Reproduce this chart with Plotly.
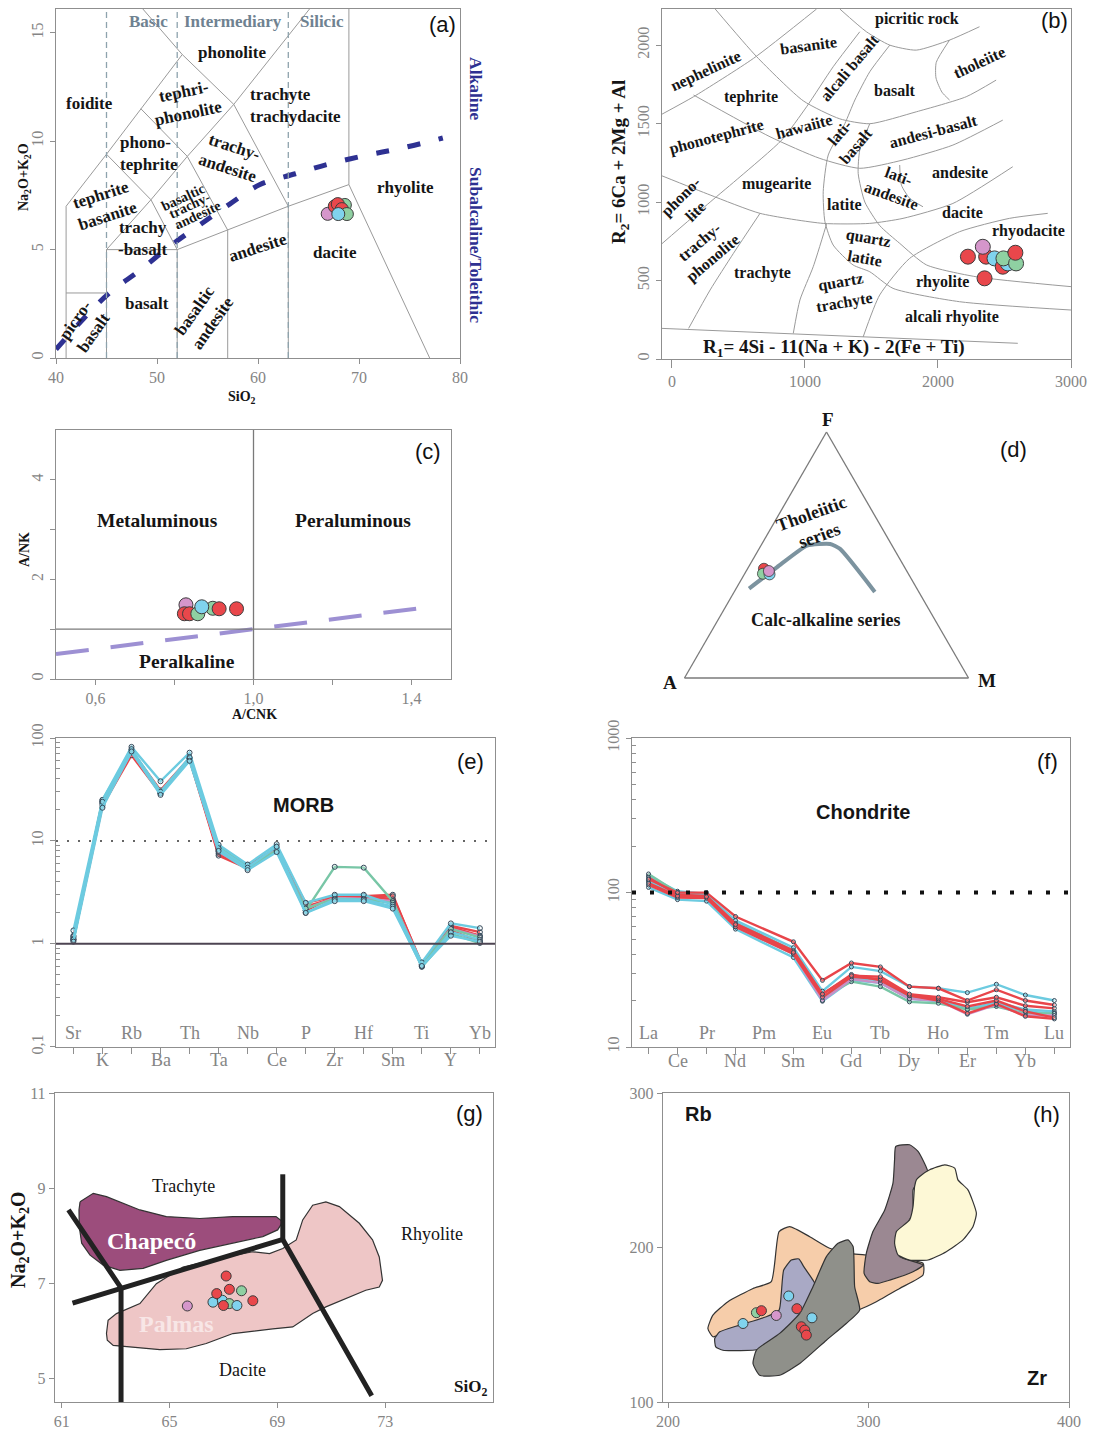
import plotly.graph_objects as go

W, H = 1096, 1432


def PX(x):
    return x / W


def PY(y):
    return 1 - y / H


SERIF = "Liberation Serif"
SANS = "Liberation Sans"
TICK = "#858585"
FRAME = "#8f8f8f"
RED, PINK, GREEN, CYAN = "#e9474b", "#d596cb", "#8fd0a2", "#80d3ee"
LRED, LPINK, LGREEN, LCYAN = "#e8454a", "#c98fc6", "#78c6a6", "#6ccbe0"
EDGE = "#3d3d3d"
NAVY = "#2e3192"

# ---------------- (a) TAS diagram ----------------
TAS_SIO2 = [66.9, 68.6, 67.6, 67.9, 68.3, 68.8, 67.95]
TAS_ALK = [6.65, 7.06, 7.0, 7.1, 6.87, 6.64, 6.64]
TAS_COL = [PINK, GREEN, RED, RED, RED, GREEN, CYAN]
TAS_DIVIDERS = [45, 52, 63]
TAS_LINES = [
    [(41, 0), (41, 7), (45, 9.4), (48.4, 11.5), (52.5, 14), (48.6, 16.1)],
    [(41, 3), (45, 3)],
    [(45, 0), (45, 5), (52, 5), (57, 5.9), (63, 7), (69, 8), (77, 0)],
    [(52, 0), (52, 5)],
    [(57, 0), (57, 5.9)],
    [(63, 0), (63, 7)],
    [(69, 8), (69, 16.1)],
    [(45, 5), (49.4, 7.3), (53, 9.3), (57.6, 11.7), (65.1, 16.1)],
    [(45, 9.4), (49.4, 7.3), (52, 5)],
    [(48.4, 11.5), (53, 9.3), (57, 5.9)],
    [(52.5, 14), (57.6, 11.7), (63, 7)],
]
IRV_SIO2 = [40, 42.7, 45.3, 48.3, 51.1, 54.1, 57.2, 60.2, 63.7, 67.1, 70.8, 74.4, 78.3]
IRV_ALK = [0.4, 1.8, 3.0, 4.04, 5.1, 6.1, 7.1, 8.0, 8.5, 8.96, 9.36, 9.7, 10.15]

# ---------------- (b) R1-R2 diagram ----------------
B_R1 = [2225, 2362, 2350, 2337, 2425, 2487, 2525, 2562, 2492, 2587, 2582]
B_R2 = [652, 652, 514, 715, 641, 588, 609, 652, 641, 609, 677]
B_COL = [RED, RED, RED, PINK, CYAN, RED, CYAN, CYAN, GREEN, GREEN, RED]
B_LINES = [
    [(-75, 195), (2600, 100)],
    [(-75, 1560), (162, 1671), (612, 1915), (1087, 2230)],
    [(325, 2230), (637, 1926), (987, 1645), (1262, 1530), (1487, 1499), (1837, 1575), (2212, 1671), (2437, 1777)],
    [(162, 1682), (737, 1416), (1112, 1278), (1412, 1215), (1737, 1268), (2112, 1363), (2487, 1522)],
    [(-75, 1167), (287, 1045), (662, 928), (1137, 864), (1487, 864), (1737, 896), (2112, 991), (2562, 1225)],
    [(1437, 140), (1562, 408), (1787, 641), (2162, 811), (2537, 896), (2825, 928)],
    [(1487, 1499), (1412, 1331), (1400, 1182), (1450, 1000), (1562, 850), (1712, 737), (1912, 600), (2287, 524), (3000, 461)],
    [(1638, 2000), (1487, 1830), (1375, 1650), (1300, 1500), (1175, 1300), (1137, 1066), (1150, 875), (1212, 726),
     (1362, 599), (1487, 556), (1662, 450), (2162, 365), (3000, 312)],
    [(1412, 2085), (1212, 1862), (1012, 1607), (825, 1395), (512, 1161), (287, 1000), (-75, 735)],
    [(662, 928), (462, 673), (287, 440), (125, 195)],
    [(1162, 859), (1062, 588), (962, 376), (912, 163)],
    [(2087, 2032), (1987, 1890), (1985, 1790), (2030, 1700), (2087, 1650)],
    [(1712, 1236), (1725, 1108), (1787, 1024), (1887, 970)],
    [(1262, 2230), (1462, 2085), (1637, 2000), (1837, 1968), (2087, 2032), (2312, 2117)],
]

# ---------------- (c) Shand diagram ----------------
C_ACNK = [0.829, 0.825, 0.838, 0.859, 0.897, 0.913, 0.957, 0.869]
C_ANK = [1.49, 1.31, 1.31, 1.31, 1.42, 1.41, 1.41, 1.45]
C_COL = [PINK, RED, RED, GREEN, GREEN, RED, RED, CYAN]
C_REF = [0.5, 1.46]

# ---------------- (d) AFM ----------------
D_CURVE_F = [0.3634, 0.4508, 0.5383, 0.5450, 0.5248, 0.3499]
D_CURVE_A = [0.5910, 0.4483, 0.2996, 0.2147, 0.1898, 0.1549]
D_CURVE_M = [0.0456, 0.1009, 0.1621, 0.2403, 0.2854, 0.4952]
D_F = [0.4441, 0.4239, 0.4212, 0.4347]
D_A = [0.4982, 0.5118, 0.4899, 0.4855]
D_M = [0.0577, 0.0643, 0.0889, 0.0798]
D_COL = [RED, GREEN, CYAN, PINK]

# ---------------- (e) MORB-normalised spider ----------------
ELEMENTS_E = ["Sr", "K", "Rb", "Ba", "Th", "Ta", "Nb", "Ce", "P", "Zr", "Hf", "Sm", "Ti", "Y", "Yb"]
E_SAMPLES = [
    (LRED, [1.10, 22, 68, 29, 62, 7.2, 5.4, 8.0, 2.5, 2.9, 2.9, 3.0, 0.62, 1.50, 1.30]),
    (LRED, [1.15, 23, 72, 30, 63, 7.5, 5.6, 8.3, 2.3, 2.8, 2.8, 2.9, 0.64, 1.45, 1.20]),
    (LRED, [1.20, 24, 75, 31, 64, 8.0, 5.8, 8.5, 2.1, 2.9, 2.9, 2.7, 0.63, 1.35, 1.05]),
    (LPINK, [1.18, 23, 73, 29, 62, 7.8, 5.5, 8.2, 2.2, 2.8, 2.75, 2.6, 0.63, 1.40, 1.18]),
    (LGREEN, [1.08, 25, 76, 30, 62, 8.8, 5.6, 8.0, 2.1, 5.6, 5.5, 2.6, 0.60, 1.25, 1.02]),
    (LGREEN, [1.12, 24, 74, 29, 61, 8.3, 5.4, 8.1, 2.2, 2.75, 2.7, 2.5, 0.62, 1.40, 1.15]),
    (LCYAN, [1.35, 25, 82, 38, 72, 9.2, 5.9, 9.3, 2.5, 3.0, 3.0, 2.4, 0.66, 1.58, 1.42]),
    (LCYAN, [1.10, 24, 78, 30, 65, 8.5, 5.5, 8.8, 2.0, 2.7, 2.7, 2.3, 0.60, 1.30, 1.10]),
    (LCYAN, [1.05, 21, 74, 28, 60, 8.0, 5.2, 7.8, 2.0, 2.6, 2.6, 2.2, 0.61, 1.20, 1.05]),
]
E_TICKS = [0.1, 1, 10, 100]
E_TICKTEXT = ["0,1", "1", "10", "100"]

# ---------------- (f) Chondrite-normalised REE ----------------
ELEMENTS_F = ["La", "Ce", "Pr", "Nd", "Pm", "Sm", "Eu", "Gd", "Tb", "Dy", "Ho", "Er", "Tm", "Yb", "Lu"]
F_SAMPLES = [
    (LCYAN, [128, 102, 98, 64, None, 42, 20.5, 28, 27, 21, 20, 17.5, 19.5, 17.5, 17]),
    (LCYAN, [108, 90, 88, 58, None, 38, 19.8, 27, 26, 20.5, 19.8, 17.8, 19, 17, 16.5]),
    (LGREEN, [132, 100, 97, 63, None, 42, 21, 26.5, 24.6, 19.6, 19.2, 17.5, 18.3, 16.5, 16.5]),
    (LPINK, [120, 96, 93, 60, None, 40, 20, 27.5, 26, 20.5, 20, 16.3, 18.8, 16, 16]),
    (LCYAN, [118, 98, 97, 66, None, 44, 23, 33, 31, 24.6, 24, 22.5, 25.5, 21.7, 20]),
    (LRED, [125, 97, 95, 63, None, 42, 22, 29.5, 27, 21.5, 20, 16.5, 19, 15.8, 15.2]),
    (LRED, [112, 93, 92, 60, None, 40, 21, 28.5, 27.5, 21.5, 20.5, 18.3, 20, 17, 15.5]),
    (LRED, [115, 95, 94, 62, None, 41, 22, 29, 28.5, 22, 21, 19.5, 21, 18.5, 17.8]),
    (LRED, [122, 100, 100, 70, None, 48, 27, 35, 33, 24.6, 24, 20, 23.5, 20, 18.7]),
]
F_TICKS = [10, 100, 1000]

# ---------------- (g) TAS zoom with Chapecó / Palmas fields ----------------
G_SIO2 = [65.66, 66.61, 66.96, 67.22, 67.50, 67.67, 66.75, 67.10, 67.22, 68.09, 67.00]
G_ALK = [6.52, 6.60, 6.64, 6.57, 6.53, 6.84, 6.78, 7.15, 6.87, 6.63, 6.53]
G_COL = [PINK, CYAN, CYAN, GREEN, CYAN, GREEN, RED, RED, RED, RED, RED]
CHAPECO = [(61.68, 8.71), (62.17, 8.89), (62.66, 8.82), (63.90, 8.54), (64.88, 8.40), (66.12, 8.36), (67.35, 8.40),
           (68.95, 8.40), (69.20, 8.29), (69.01, 8.12), (68.46, 7.98), (67.35, 7.84), (66.12, 7.69), (64.88, 7.48),
           (64.02, 7.31), (63.16, 7.27), (62.54, 7.38), (62.05, 7.59), (61.74, 7.84), (61.65, 8.19), (61.64, 8.54)]
PALMAS = [(62.66, 5.94), (62.72, 6.22), (63.03, 6.36), (63.90, 6.57), (64.51, 6.99), (65.50, 7.34), (67.10, 7.55),
          (68.09, 7.66), (68.71, 7.62), (69.20, 7.73), (69.70, 7.91), (69.94, 8.33), (70.31, 8.64), (70.80, 8.71),
          (71.30, 8.61), (72.04, 8.26), (72.53, 7.91), (72.78, 7.55), (72.90, 7.06), (72.78, 6.92), (72.28, 6.85),
          (71.42, 6.64), (70.80, 6.50), (70.31, 6.36), (69.57, 6.08), (68.83, 6.04), (67.35, 5.94), (66.36, 5.73),
          (65.62, 5.62), (64.64, 5.60), (63.65, 5.65), (62.91, 5.69), (62.69, 5.80)]
G_LINES = [
    [(61.25, 8.54), (63.2, 6.9), (63.2, 4.5)],
    [(61.4, 6.58), (69.2, 7.92), (72.5, 4.63)],
    [(69.2, 9.29), (69.2, 7.92)],
]

# ---------------- (h) Zr vs Rb ----------------
H_ZR = [237.4, 244.1, 246.6, 254.0, 260.2, 264.3, 271.8, 266.5, 268.2, 269.0]
H_RB = [150.8, 157.8, 159.1, 156.0, 168.6, 160.4, 154.5, 148.7, 146.5, 143.3]
H_COL = [CYAN, GREEN, RED, PINK, CYAN, RED, CYAN, RED, RED, RED]
H_FIELDS = [
    ("#f6cdaa", [(219.9, 147.6), (222.4, 156.2), (229.9, 164.9), (242.4, 173.5), (251.5, 177.9), (255.4, 210.3),
                 (260.7, 213.5), (270.7, 207.0), (280.6, 199.5), (290.6, 196.2), (298.1, 195.2), (327.2, 189.8),
                 (327.2, 182.2), (315.5, 173.5), (303.9, 164.9), (295.6, 159.9), (288.9, 157.3), (255.7, 144.4),
                 (230.8, 146.5), (222.4, 142.2)]),
    ("#9b8892", [(313.6, 265.4), (320.5, 266.5), (324.7, 262.2), (329.7, 248.1), (325.5, 243.8), (322.2, 237.3),
                 (322.2, 222.2), (317.2, 211.4), (313.6, 204.9), (315.5, 194.1), (327.2, 188.7), (322.2, 184.3),
                 (310.6, 178.9), (304.7, 176.8), (300.6, 177.9), (297.8, 183.3), (298.9, 196.2), (302.2, 210.3),
                 (308.1, 224.3), (312.2, 241.6), (313.0, 256.8)]),
    ("#fdf8d6", [(323.9, 243.8), (325.5, 246.0), (330.5, 250.3), (338.0, 253.5), (343.0, 251.4), (344.6, 243.8),
                 (349.6, 237.3), (353.8, 222.2), (352.1, 213.5), (347.1, 204.9), (338.8, 197.3), (329.7, 191.9),
                 (320.5, 191.9), (314.7, 195.2), (313.0, 202.7), (313.9, 210.3), (320.5, 217.9), (322.2, 226.5),
                 (323.0, 239.5)]),
    ("#a9a9c5", [(223.3, 141.1), (225.8, 145.4), (235.7, 149.8), (249.0, 155.2), (255.4, 159.5), (256.5, 170.3),
                 (257.7, 185.4), (261.5, 191.9), (265.3, 192.6), (267.7, 187.6), (272.3, 178.9), (275.6, 170.3),
                 (272.3, 157.3), (259.0, 140.0), (245.7, 134.0), (227.4, 133.5), (223.8, 135.7)]),
    ("#8f908a", [(242.4, 124.9), (244.1, 133.6), (255.7, 144.4), (265.7, 157.3), (272.3, 174.6), (279.0, 194.1),
                 (284.8, 202.7), (289.8, 204.9), (292.3, 200.6), (293.1, 174.6), (295.6, 159.5), (288.9, 150.8),
                 (279.0, 140.0), (265.7, 124.9), (255.7, 117.3), (245.7, 117.3)]),
]


def segs(lines):
    xs, ys = [], []
    for ln in lines:
        for x, y in ln:
            xs.append(x)
            ys.append(y)
        xs.append(None)
        ys.append(None)
    return xs, ys


def pts(x, y, cols, size, xa, ya):
    return go.Scatter(x=x, y=y, mode="markers", xaxis=xa, yaxis=ya,
                      marker=dict(size=size, color=cols, line=dict(color=EDGE, width=1)))


traces = []
shapes = []
ann = []

# (a)
tx, ty = segs(TAS_LINES)
traces.append(go.Scatter(x=tx, y=ty, mode="lines", line=dict(color="#9a9a9a", width=1), xaxis="x", yaxis="y"))
for d in TAS_DIVIDERS:
    shapes.append(dict(type="line", xref="x", yref="y domain", x0=d, x1=d, y0=0, y1=1,
                       line=dict(color="#8ea3ad", width=1.3, dash="6px,4px")))
traces.append(go.Scatter(x=IRV_SIO2, y=IRV_ALK, mode="lines", line=dict(color=NAVY, width=5, dash="13px,19px"),
                         line_shape="spline", xaxis="x", yaxis="y"))
traces.append(pts(TAS_SIO2, TAS_ALK, TAS_COL, 13, "x", "y"))

# (b)
bx, by = segs(B_LINES)
traces.append(go.Scatter(x=bx, y=by, mode="lines", line=dict(color="#9a9a9a", width=1, shape="spline", smoothing=0.6),
                         xaxis="x2", yaxis="y2"))
traces.append(pts(B_R1, B_R2, B_COL, 15, "x2", "y2"))

# (c)
shapes.append(dict(type="line", xref="x3", yref="y3 domain", x0=1.0, x1=1.0, y0=0, y1=1,
                   line=dict(color="#7a7a7a", width=1.3)))
shapes.append(dict(type="line", xref="x3 domain", yref="y3", x0=0, x1=1, y0=1.0, y1=1.0,
                   line=dict(color="#7a7a7a", width=1.3)))
traces.append(go.Scatter(x=C_REF, y=C_REF, mode="lines", line=dict(color="#9d90d3", width=4, dash="33px,22px"),
                         xaxis="x3", yaxis="y3"))
traces.append(pts(C_ACNK, C_ANK, C_COL, 14, "x3", "y3"))

# (d)
traces.append(go.Scatterternary(a=D_CURVE_F, b=D_CURVE_A, c=D_CURVE_M, mode="lines",
                                line=dict(color="#7c939f", width=4, shape="spline", smoothing=0.5)))
traces.append(go.Scatterternary(a=D_F, b=D_A, c=D_M, mode="markers",
                                marker=dict(size=11, color=D_COL, line=dict(color=EDGE, width=0.8))))

# (e)
XE = list(range(len(ELEMENTS_E)))
shapes.append(dict(type="line", xref="x4 domain", yref="y4", x0=0, x1=1, y0=10, y1=10,
                   line=dict(color="#666", width=2, dash="2px,9px")))
shapes.append(dict(type="line", xref="x4 domain", yref="y4", x0=0, x1=1, y0=1, y1=1,
                   line=dict(color="#4d4452", width=2)))
for col, vals in E_SAMPLES:
    traces.append(go.Scatter(x=XE, y=vals, mode="lines+markers", xaxis="x4", yaxis="y4",
                             line=dict(color=col, width=2.4),
                             marker=dict(size=5, color="rgba(255,255,255,0.2)", line=dict(color="#34495a", width=1))))

# (f)
XF = list(range(len(ELEMENTS_F)))
shapes.append(dict(type="line", xref="x5 domain", yref="y5", x0=0, x1=1, y0=100, y1=100,
                   line=dict(color="#111", width=4, dash="4px,14px")))
for col, vals in F_SAMPLES:
    traces.append(go.Scatter(x=XF, y=vals, mode="lines+markers", xaxis="x5", yaxis="y5", connectgaps=True,
                             line=dict(color=col, width=2.4),
                             marker=dict(size=4, color="rgba(255,255,255,0.2)", line=dict(color="#34495a", width=1))))

# (g)
for col, poly in [("#9c4d7c", CHAPECO), ("#eec6c6", PALMAS)]:
    px_, py_ = segs([poly + [poly[0]]])
    traces.append(go.Scatter(x=px_, y=py_, mode="lines", fill="toself", fillcolor=col,
                             line=dict(color="#333", width=1.2), xaxis="x6", yaxis="y6"))
gx, gy = segs(G_LINES)
traces.append(go.Scatter(x=gx, y=gy, mode="lines", line=dict(color="#222", width=5), xaxis="x6", yaxis="y6"))
traces.append(pts(G_SIO2, G_ALK, G_COL, 10, "x6", "y6"))

# (h)
for col, poly in H_FIELDS:
    px_, py_ = segs([poly + [poly[0]]])
    traces.append(go.Scatter(x=px_, y=py_, mode="lines", fill="toself", fillcolor=col,
                             line=dict(color="#333", width=1.2, shape="spline", smoothing=0.5),
                             xaxis="x7", yaxis="y7"))
traces.append(pts(H_ZR, H_RB, H_COL, 10, "x7", "y7"))


# ---------------- annotations ----------------
def lab(text, x, y, size=17, angle=0, color="#151515", family=SERIF, bold=True, align="center", xanchor="center"):
    ann.append(dict(text=f"<b>{text}</b>" if bold else text, x=PX(x), y=PY(y), xref="paper", yref="paper",
                    showarrow=False, textangle=angle, font=dict(family=family, size=size, color=color),
                    align=align, xanchor=xanchor, yanchor="middle"))


def panel_tag(t, x, y):
    lab(t, x, y, size=22, family=SANS, bold=False, color="#111")


CATF = dict(family=SERIF, size=18, color=TICK)


def cat_labels(names, xref, y_inner, y_outer):
    # element names on two rows: even positions inside the frame, odd ones below it
    for i, name in enumerate(names):
        ann.append(dict(text=name, x=i, xref=xref, y=PY(y_inner if i % 2 == 0 else y_outer), yref="paper",
                        showarrow=False, font=CATF, xanchor="center", yanchor="middle"))


# (a)
for t, x in [("Basic", 148), ("Intermediary", 233), ("Silicic", 322)]:
    lab(t, x, 21, 17, color="#6f8291")
lab("phonolite", 232, 53)
lab("foidite", 89, 104)
lab("tephri-<br>phonolite", 186, 103, angle=-12)
lab("trachyte<br>trachydacite", 248, 106, align="left", xanchor="left")
lab("phono-<br>tephrite", 118, 154, align="left", xanchor="left")
lab("trachy-<br>andesite", 231, 158, angle=18)
lab("rhyolite", 405, 187)
lab("tephrite<br>basanite", 104, 206, angle=-18)
lab("basaltic", 183, 197, 14, angle=-25)
lab("trachy-", 190, 206, 14, angle=-25)
lab("andesite", 197, 215, 14, angle=-25)
lab("trachy<br>-basalt", 142, 238)
lab("andesite", 258, 248, angle=-18)
lab("dacite", 335, 252)
lab("basalt", 147, 303)
lab("basaltic<br>andesite", 204, 317, angle=-55)
lab("picro-<br>basalt", 84, 326, angle=-55)
lab("Alkaline", 476, 88, 17.5, angle=90, color=NAVY)
lab("Subalcaline/Toleithic", 476, 245, 17.5, angle=90, color=NAVY)
lab("SiO<sub>2</sub>", 242, 397, 14)
lab("Na<sub>2</sub>O+K<sub>2</sub>O", 25, 177, 14, angle=-90)
panel_tag("(a)", 442, 24)

# (b)
for t, x, y, a in [("picritic rock", 917, 19, 0), ("basanite", 808, 45, -8), ("nephelinite", 706, 71, -25),
                   ("alcali basalt", 850, 68, -50), ("tholeiite", 979, 63, -25), ("tephrite", 751, 97, 0),
                   ("basalt", 895, 90, 0), ("phonotephrite", 716, 137, -15), ("hawaiite", 804, 126, -15),
                   ("lati-<br>basalt", 848, 139, -50), ("andesi-basalt", 933, 131, -15), ("mugearite", 776, 184, 0),
                   ("phono-<br>lite", 688, 204, -45), ("lati-<br>andesite", 895, 186, 20), ("andesite", 960, 173, 0),
                   ("latite", 844, 205, 0), ("dacite", 962, 213, 0), ("trachy-<br>phonolite", 706, 250, -40),
                   ("quartz<br>latite", 866, 248, 10), ("rhyodacite", 1028, 231, 0), ("trachyte", 762, 273, 0),
                   ("quartz<br>trachyte", 842, 292, -10), ("rhyolite", 942, 282, 0), ("alcali rhyolite", 952, 317, 0)]:
    lab(t, x, y, 16, angle=a)
lab("R<sub>1</sub>= 4Si - 11(Na + K) - 2(Fe + Ti)", 834, 348, 19)
lab("R<sub>2</sub>= 6Ca + 2Mg + Al", 620, 162, 19, angle=-90)
panel_tag("(b)", 1054, 20)

# (c)
lab("Metaluminous", 157, 520, 19.5)
lab("Peraluminous", 353, 520, 19.5)
lab("Peralkaline", 187, 661, 19.5)
lab("A/CNK", 254, 714, 14)
lab("A/NK", 24, 550, 14, angle=-90)
panel_tag("(c)", 428, 452)

# (d)
lab("F", 828, 420, 19)
lab("A", 670, 682, 19)
lab("M", 987, 680, 19)
lab("Tholeiitic<br>series", 815, 525, 18, angle=-20)
lab("Calc-alkaline series", 825, 620, 18)
panel_tag("(d)", 1013, 449)

# (e), (f)
lab("MORB", 303, 805, 20, family=SANS)
panel_tag("(e)", 470, 762)
cat_labels(ELEMENTS_E, "x4", 1033, 1060)
lab("Chondrite", 863, 812, 20, family=SANS)
panel_tag("(f)", 1047, 762)
cat_labels(ELEMENTS_F, "x5", 1033, 1061)

# (g)
lab("Trachyte", 183, 1186, 18, bold=False)
lab("Rhyolite", 432, 1234, 18, bold=False)
lab("Dacite", 242, 1370, 18, bold=False)
lab("Chapecó", 151, 1241, 24, color="white")
lab("Palmas", 176, 1324, 24, color="#f8e6e6")
lab("SiO<sub>2</sub>", 470, 1388, 17)
lab("Na<sub>2</sub>O+K<sub>2</sub>O", 19, 1240, 20, angle=-90)
panel_tag("(g)", 469, 1113)

# (h)
lab("Rb", 698, 1114, 20, family=SANS)
lab("Zr", 1037, 1378, 20, family=SANS)
panel_tag("(h)", 1046, 1114)

# ---------------- axes ----------------
TF = dict(family=SERIF, size=16, color=TICK)


def ax(dom, rng, **kw):
    d = dict(domain=dom, range=rng, showline=True, mirror=True, linecolor=FRAME, linewidth=1.4,
             showgrid=False, zeroline=False, ticks="outside", tickcolor=FRAME, ticklen=5, tickwidth=1,
             tickfont=TF, fixedrange=True)
    d.update(kw)
    return d


def xd(a, b):
    return [PX(a), PX(b)]


def yd(top, bottom):
    return [PY(bottom), PY(top)]


def tern_axis():
    return dict(showticklabels=False, ticks="", showgrid=False, linecolor="#7a7a7a", linewidth=1.3,
                title=dict(text=""))


MINOR_E = [m * 10 ** k for k in (-1, 0, 1) for m in range(2, 10)]
MINOR_F = [m * 10 ** k for k in (1, 2) for m in range(2, 10)]

layout = dict(
    width=W, height=H, margin=dict(l=0, r=0, t=0, b=0, autoexpand=False), paper_bgcolor="white",
    plot_bgcolor="white", showlegend=False, hovermode=False, shapes=shapes, annotations=ann,
    xaxis=ax(xd(56, 460), [40, 80], tickvals=[40, 50, 60, 70, 80], anchor="y"),
    yaxis=ax(yd(9, 358), [0, 16.1], tickvals=[0, 5, 10, 15], tickangle=-90, anchor="x"),
    xaxis2=ax(xd(662, 1071), [-75, 3000], tickvals=[0, 1000, 2000, 3000], ticklen=8, anchor="y2"),
    yaxis2=ax(yd(9, 359), [0, 2230], tickvals=[0, 500, 1000, 1500, 2000], tickangle=-90, anchor="x2"),
    xaxis3=ax(xd(56, 451), [0.5, 1.5], tickvals=[0.6, 1.0, 1.4], ticktext=["0,6", "1,0", "1,4"],
              minor=dict(tickvals=[0.8, 1.2], ticks="outside", ticklen=5, tickcolor=FRAME), anchor="y3"),
    yaxis3=ax(yd(430, 679), [0, 5], tickvals=[0, 2, 4], tickangle=-90,
              minor=dict(tickvals=[1, 3], ticks="outside", ticklen=5, tickcolor=FRAME), anchor="x3"),
    xaxis4=ax(xd(56, 495), [-0.6, 14.52], tickvals=XE, showticklabels=False, ticklen=6, anchor="y4"),
    yaxis4=ax(yd(738, 1047), [-1.002, 2], type="log", tickvals=E_TICKS, ticktext=E_TICKTEXT, tickangle=-90,
              minor=dict(tickvals=MINOR_E, ticks="inside", ticklen=4, tickcolor=FRAME), anchor="x4"),
    xaxis5=ax(xd(632, 1070), [-0.57, 14.54], tickvals=XF, showticklabels=False, ticklen=6, anchor="y5"),
    yaxis5=ax(yd(738, 1047), [1, 3.001], type="log", tickvals=F_TICKS, ticktext=[str(v) for v in F_TICKS],
              tickangle=-90, minor=dict(tickvals=MINOR_F, ticks="inside", ticklen=4, tickcolor=FRAME), anchor="x5"),
    xaxis6=ax(xd(55, 493), [60.75, 77], tickvals=[61, 65, 69, 73], anchor="y6"),
    yaxis6=ax(yd(1093, 1402), [4.5, 11], tickvals=[5, 7, 9, 11], anchor="x6"),
    xaxis7=ax(xd(663, 1069), [197.5, 400], tickvals=[200, 300, 400], anchor="y7"),
    yaxis7=ax(yd(1093, 1402), [100, 300], tickvals=[100, 200, 300], anchor="x7"),
    ternary=dict(
        domain=dict(x=xd(683, 970), y=yd(432, 678)), sum=1, bgcolor="white",
        aaxis=tern_axis(), baxis=tern_axis(), caxis=tern_axis(),
    ),
)

fig = go.Figure(data=traces, layout=layout)
fig.update_traces(hoverinfo="skip")

POST = "document.body.style.margin='0';document.documentElement.style.margin='0';"
fig.write_html("out.html", config={"displayModeBar": False}, post_script=POST)
